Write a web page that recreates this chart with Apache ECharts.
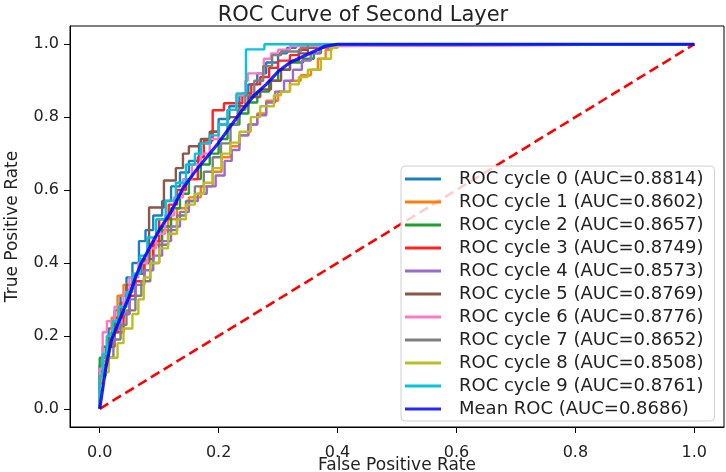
<!DOCTYPE html>
<html>
<head>
<meta charset="utf-8">
<script src="https://cdn.jsdelivr.net/npm/echarts@6/dist/echarts.min.js"></script>
<style>
  html, body { margin: 0; padding: 0; background: #fff; }
  #roc_show { width: 726px; height: 472px; }
</style>
</head>
<body>
<div id="roc_show"></div>
<script>
// 每一折的ROC拐点 (fpr, tpr)
var fpr0 = [0, 0.005, 0.015, 0.025, 0.035, 0.045, 0.055, 0.066, 0.077, 0.09, 0.105, 0.12, 0.135, 0.15, 0.167, 0.187, 0.20, 0.218, 0.235, 0.25, 0.265, 0.28, 0.30, 0.315, 0.33, 1.0];
var tpr0 = [0, 0.12, 0.17, 0.22, 0.27, 0.31, 0.36, 0.40, 0.46, 0.49, 0.53, 0.57, 0.61, 0.648, 0.68, 0.728, 0.76, 0.795, 0.83, 0.86, 0.89, 0.92, 0.95, 0.975, 0.99, 1.0];

var fpr1 = [0, 0.005, 0.012, 0.02, 0.03, 0.04, 0.055, 0.07, 0.085, 0.10, 0.115, 0.13, 0.15, 0.17, 0.19, 0.205, 0.22, 0.235, 0.25, 0.265, 0.28, 0.30, 0.32, 0.338, 0.355, 0.367, 0.38, 0.39, 1.0];
var tpr1 = [0, 0.08, 0.13, 0.19, 0.25, 0.31, 0.34, 0.37, 0.41, 0.45, 0.49, 0.52, 0.55, 0.58, 0.61, 0.65, 0.69, 0.72, 0.75, 0.78, 0.81, 0.845, 0.87, 0.90, 0.915, 0.93, 0.96, 0.985, 1.0];

var fpr2 = [0, 0.01, 0.02, 0.03, 0.04, 0.05, 0.06, 0.075, 0.09, 0.105, 0.12, 0.135, 0.15, 0.17, 0.185, 0.20, 0.215, 0.235, 0.25, 0.265, 0.285, 0.30, 0.32, 0.342, 0.36, 0.372, 0.385, 1.0];
var tpr2 = [0, 0.14, 0.17, 0.21, 0.25, 0.29, 0.33, 0.37, 0.41, 0.46, 0.50, 0.55, 0.59, 0.63, 0.67, 0.70, 0.74, 0.78, 0.81, 0.84, 0.87, 0.90, 0.93, 0.95, 0.96, 0.975, 0.99, 1.0];

var fpr3 = [0, 0.005, 0.015, 0.025, 0.04, 0.05, 0.06, 0.075, 0.09, 0.10, 0.116, 0.13, 0.145, 0.165, 0.175, 0.19, 0.209, 0.24, 0.255, 0.27, 0.285, 0.30, 0.32, 0.335, 0.35, 0.37, 1.0];
var tpr3 = [0, 0.07, 0.12, 0.17, 0.21, 0.26, 0.31, 0.35, 0.40, 0.46, 0.52, 0.56, 0.60, 0.63, 0.69, 0.736, 0.819, 0.838, 0.865, 0.89, 0.91, 0.935, 0.955, 0.97, 0.985, 0.995, 1.0];

var fpr4 = [0, 0.005, 0.015, 0.025, 0.035, 0.05, 0.06, 0.075, 0.09, 0.105, 0.12, 0.135, 0.15, 0.165, 0.18, 0.195, 0.21, 0.222, 0.235, 0.25, 0.265, 0.28, 0.295, 0.31, 0.325, 0.34, 0.355, 0.37, 0.385, 1.0];
var tpr4 = [0, 0.09, 0.14, 0.18, 0.22, 0.26, 0.30, 0.34, 0.38, 0.42, 0.46, 0.50, 0.54, 0.57, 0.59, 0.61, 0.64, 0.68, 0.71, 0.75, 0.78, 0.805, 0.84, 0.87, 0.90, 0.93, 0.955, 0.975, 0.99, 1.0];

var fpr5 = [0, 0.005, 0.015, 0.025, 0.035, 0.045, 0.058, 0.07, 0.083, 0.108, 0.128, 0.14, 0.15, 0.17, 0.185, 0.20, 0.215, 0.235, 0.25, 0.27, 0.288, 0.305, 0.32, 0.335, 0.35, 0.365, 1.0];
var tpr5 = [0, 0.10, 0.15, 0.20, 0.25, 0.29, 0.34, 0.37, 0.40, 0.552, 0.626, 0.66, 0.70, 0.72, 0.74, 0.76, 0.78, 0.80, 0.83, 0.855, 0.876, 0.90, 0.93, 0.955, 0.975, 0.99, 1.0];

var fpr6 = [0, 0.005, 0.012, 0.025, 0.04, 0.05, 0.065, 0.08, 0.095, 0.11, 0.125, 0.14, 0.155, 0.17, 0.185, 0.20, 0.215, 0.23, 0.245, 0.249, 0.276, 0.288, 0.30, 0.32, 0.335, 1.0];
var tpr6 = [0, 0.11, 0.21, 0.24, 0.28, 0.32, 0.36, 0.40, 0.44, 0.48, 0.53, 0.58, 0.63, 0.67, 0.70, 0.74, 0.78, 0.82, 0.86, 0.90, 0.92, 0.96, 0.975, 0.985, 0.995, 1.0];

var fpr7 = [0, 0.01, 0.023, 0.035, 0.045, 0.06, 0.07, 0.085, 0.10, 0.115, 0.13, 0.145, 0.16, 0.175, 0.19, 0.204, 0.22, 0.232, 0.245, 0.26, 0.275, 0.29, 0.305, 0.338, 0.35, 1.0];
var tpr7 = [0, 0.09, 0.14, 0.19, 0.23, 0.27, 0.31, 0.35, 0.40, 0.45, 0.49, 0.53, 0.57, 0.61, 0.65, 0.69, 0.728, 0.78, 0.82, 0.86, 0.90, 0.94, 0.97, 0.98, 0.99, 1.0];

var fpr8 = [0, 0.005, 0.015, 0.03, 0.04, 0.055, 0.065, 0.074, 0.085, 0.10, 0.115, 0.13, 0.145, 0.16, 0.175, 0.19, 0.205, 0.22, 0.235, 0.254, 0.27, 0.293, 0.305, 0.32, 0.335, 0.35, 0.372, 0.389, 0.40, 1.0];
var tpr8 = [0, 0.05, 0.10, 0.14, 0.18, 0.22, 0.26, 0.30, 0.36, 0.40, 0.44, 0.48, 0.52, 0.56, 0.59, 0.62, 0.66, 0.70, 0.73, 0.76, 0.80, 0.83, 0.86, 0.87, 0.89, 0.91, 0.93, 0.96, 0.99, 1.0];

var fpr9 = [0, 0.005, 0.012, 0.022, 0.032, 0.045, 0.055, 0.068, 0.08, 0.095, 0.111, 0.128, 0.145, 0.16, 0.17, 0.185, 0.20, 0.215, 0.23, 0.246, 0.277, 1.0];
var tpr9 = [0, 0.09, 0.15, 0.20, 0.24, 0.28, 0.32, 0.37, 0.42, 0.47, 0.52, 0.571, 0.62, 0.67, 0.70, 0.728, 0.75, 0.78, 0.82, 0.865, 0.986, 1.0];

// 平均ROC
var meanFpr = [0, 0.01, 0.02, 0.03, 0.04, 0.05, 0.06, 0.07, 0.08, 0.09, 0.10, 0.12, 0.14, 0.16, 0.18, 0.20, 0.22, 0.24, 0.26, 0.28, 0.30, 0.32, 0.34, 0.36, 0.38, 0.40, 0.60, 0.80, 1.0];
var meanTpr = [0, 0.11, 0.19, 0.23, 0.27, 0.31, 0.36, 0.40, 0.43, 0.46, 0.49, 0.54, 0.605, 0.65, 0.69, 0.73, 0.775, 0.82, 0.86, 0.89, 0.925, 0.95, 0.965, 0.98, 0.995, 1.0, 1.0, 1.0, 1.0];

var aucList = ['0.8814', '0.8602', '0.8657', '0.8749', '0.8573', '0.8769', '0.8776', '0.8652', '0.8508', '0.8761'];
var meanAuc = '0.8686';
var tickValues = [0, 0.2, 0.4, 0.6, 0.8, 1.0];

var fprList = [fpr0, fpr1, fpr2, fpr3, fpr4, fpr5, fpr6, fpr7, fpr8, fpr9];
var tprList = [tpr0, tpr1, tpr2, tpr3, tpr4, tpr5, tpr6, tpr7, tpr8, tpr9];
var colors = ['#1a7fc2', '#ff7f0e', '#1ea02c', '#ff2424', '#9a6acc', '#8c564b', '#ff78c8', '#7f7f7f', '#bcbd22', '#08c4d8'];

function zip(xs, ys) {
    var out = [];
    for (var i = 0; i < xs.length; i++) {
        out.push([xs[i], ys[i]]);
    }
    return out;
}

var font = 'DejaVu Sans';
var seriesList = [];
var legendNames = [];
for (var k = 0; k < fprList.length; k++) {
    var name = 'ROC cycle ' + k + ' (AUC=' + aucList[k] + ')';
    legendNames.push(name);
    seriesList.push({
        name: name,
        type: 'line',
        step: 'start',
        showSymbol: false,
        color: colors[k],
        lineStyle: { width: 2.4, color: colors[k] },
        data: zip(fprList[k], tprList[k])
    });
}
// 对角线
seriesList.push({
    name: 'chance',
    type: 'line',
    showSymbol: false,
    color: '#ff0000',
    lineStyle: { width: 2.6, color: '#ff0000', type: [10, 5] },
    data: [[0, 0], [1, 1]]
});
var meanName = 'Mean ROC (AUC=' + meanAuc + ')';
legendNames.push(meanName);
seriesList.push({
    name: meanName,
    type: 'line',
    showSymbol: false,
    color: 'rgba(0,0,255,0.85)',
    lineStyle: { width: 3.2, color: 'rgba(0,0,255,0.85)' },
    data: zip(meanFpr, meanTpr)
});

var axisCommon = {
    type: 'value',
    min: -0.05,
    max: 1.05,
    splitLine: { show: false },
    axisLine: { show: true, onZero: false, lineStyle: { color: '#000', width: 1 } },
    axisTick: { show: true, length: 6, customValues: tickValues, lineStyle: { color: '#000', width: 1 } },
    axisLabel: {
        customValues: tickValues,
        color: '#222',
        fontFamily: font,
        fontSize: 16,
        formatter: function (v) { return v.toFixed(1); }
    },
    nameLocation: 'middle',
    nameMoveOverlap: false,
    nameTextStyle: { color: '#222', fontFamily: font, fontSize: 17 }
};

var oChart = echarts.init(document.getElementById('roc_show'));
var chartopt = {
    animation: false,
    title: {
        text: 'ROC Curve of Second Layer',
        left: 'center',
        top: 0,
        textStyle: { color: '#222', fontFamily: font, fontSize: 21, fontWeight: 'normal', lineHeight: 22 }
    },
    grid: {
        show: true,
        left: 70,
        right: 2,
        top: 26,
        bottom: 45,
        outerBoundsMode: 'none',
        borderColor: '#000',
        borderWidth: 1
    },
    legend: {
        data: legendNames,
        orient: 'vertical',
        left: 401,
        top: 166,
        padding: [4, 11, 3, 4],
        itemGap: 5,
        itemWidth: 36,
        itemHeight: 3,
        icon: 'rect',
        backgroundColor: 'rgba(255,255,255,0.8)',
        borderColor: '#d0d0d0',
        borderWidth: 1,
        borderRadius: 4,
        textStyle: { color: '#222', fontFamily: font, fontSize: 18, lineHeight: 18, padding: [0, 0, 0, 13] }
    },
    xAxis: Object.assign({}, axisCommon, {
        name: 'False Positive Rate',
        nameGap: 30,
        axisLabel: Object.assign({}, axisCommon.axisLabel, { margin: 18 })
    }),
    yAxis: Object.assign({}, axisCommon, {
        name: 'True Positive Rate',
        nameGap: 49,
        axisLabel: Object.assign({}, axisCommon.axisLabel, { margin: 11 })
    }),
    series: seriesList
};
oChart.setOption(chartopt);
</script>
</body>
</html>
